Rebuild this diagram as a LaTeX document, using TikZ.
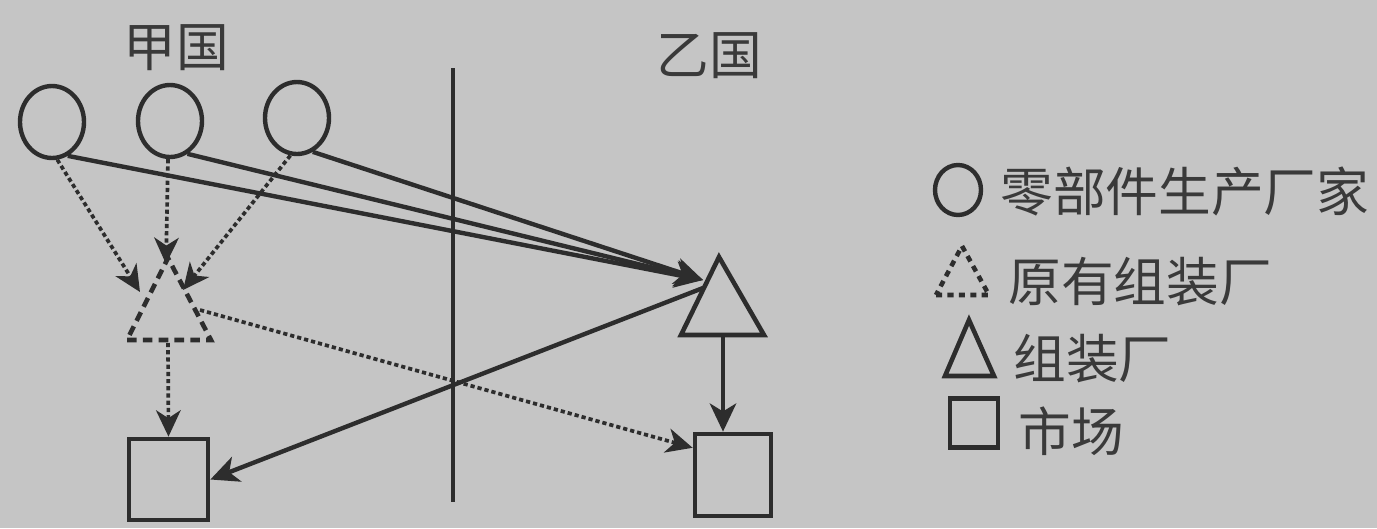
\documentclass[tikz,border=0pt]{standalone}
\usepackage{fontspec}
\newfontfamily\cjk{Noto Sans CJK SC}
\usetikzlibrary{arrows.meta,shapes.geometric}
\definecolor{bg}{RGB}{197,197,197}
\definecolor{ink}{RGB}{45,45,45}
\definecolor{txt}{RGB}{58,58,58}
\begin{document}
\begin{tikzpicture}[x=0.02cm,y=-0.02cm,
  ln/.style={draw=ink,line width=2.5pt},
  part/.style={ellipse,draw=ink,line width=2.5pt,minimum width=1.28cm,minimum height=1.44cm,inner sep=0pt},
  mkt/.style={rectangle,draw=ink,line width=2.7pt,inner sep=0pt},
  solidarrow/.style={draw=ink,line width=2.5pt,-{Stealth[length=16pt,width=15pt,inset=4.5pt]}},
  dotarrow/.style={draw=ink,line width=2.1pt,dash pattern=on 2.4pt off 1.7pt,-{Stealth[length=15pt,width=14pt,inset=4.5pt]}},
  dashtri/.style={draw=ink,line width=2.6pt,dash pattern=on 5.5pt off 3.5pt,line join=miter},
  soltri/.style={draw=ink,line width=2.6pt,line join=miter},
  lbl/.style={text=txt,font=\cjk\fontsize{30}{32}\selectfont,inner sep=0pt}]
\fill[bg] (0,0) rectangle (1377,528);
\useasboundingbox (0,0) rectangle (1377,528);

% country labels
\node[lbl] (jia) at (176,48) {甲国};
\node[lbl] (yi) at (709,56) {乙国};

% border
\coordinate (bTop) at (453,68);
\coordinate (bBot) at (453,502);
\draw[ln] (bTop) -- (bBot);

% part producers
\node[part] (p1) at (52,122) {};
\node[part] (p2) at (170,121) {};
\node[part] (p3) at (297,118) {};

% original assembly plant (dashed triangle)
\coordinate (Aap) at (168,258);
\coordinate (Abl) at (127,340);
\coordinate (Abr) at (211,340);
\draw[dashtri] (Abl) -- (Abr) -- (Aap) -- cycle;
\coordinate (Abase) at (168,343);
\coordinate (Aright) at (200,310);
\coordinate (tipL) at (140,292);
\coordinate (tipM) at (166,264);
\coordinate (tipR) at (183,290);

% new assembly plant (solid triangle)
\coordinate (Bap) at (719,257);
\coordinate (Bbl) at (681,335);
\coordinate (Bbr) at (764,335);
\draw[soltri] (Bbl) -- (Bbr) -- (Bap) -- cycle;
\coordinate (Bin) at (703,280);
\coordinate (Bout) at (703,288);
\coordinate (Bbase) at (723,337);

% markets
\node[mkt,minimum width=1.58cm,minimum height=1.62cm] (sqL) at (168.5,479.5) {};
\node[mkt,minimum width=1.52cm,minimum height=1.64cm] (sqR) at (733,475) {};

% dotted flows to original plant
\draw[dotarrow] (p1.-82) -- (tipL);
\draw[dotarrow] (p2.-93) -- (tipM);
\draw[dotarrow] (p3.-100) -- (tipR);
\draw[dotarrow] (Abase) -- (sqL.north);
\draw[dotarrow] (Aright) -- (sqR.146);

% solid flows
\draw[solidarrow] (p1.-65) -- (Bin);
\draw[solidarrow] (p2.-62) -- (Bin);
\draw[solidarrow] (p3.-65) -- (Bin);
\draw[solidarrow] (Bout) -- (sqL.east);
\draw[solidarrow] (Bbase) -- (Bbase |- sqR.north);

% legend
\node[ellipse,draw=ink,line width=2.5pt,minimum width=0.92cm,minimum height=1.0cm,inner sep=0pt] (lgC) at (958,190) {};
\node[lbl,anchor=west] (lgCt) at (1000,191) {零部件生产厂家};
\coordinate (lgAap) at (962,246);
\coordinate (lgAbl) at (936,295);
\coordinate (lgAbr) at (989,295);
\draw[draw=ink,line width=2.6pt,dash pattern=on 3.5pt off 3pt] (lgAbl) -- (lgAbr) -- (lgAap) -- cycle;
\node[lbl,anchor=west] (lgAt) at (1008,282) {原有组装厂};
\coordinate (lgBap) at (969,320);
\coordinate (lgBbl) at (945,376);
\coordinate (lgBbr) at (994,376);
\draw[soltri] (lgBbl) -- (lgBbr) -- (lgBap) -- cycle;
\node[lbl,anchor=west] (lgBt) at (1013,359) {组装厂};
\node[mkt,minimum width=0.96cm,minimum height=0.98cm] (lgS) at (974,423) {};
\node[lbl,anchor=west] (lgSt) at (1018,431) {市场};
\end{tikzpicture}
\end{document}
